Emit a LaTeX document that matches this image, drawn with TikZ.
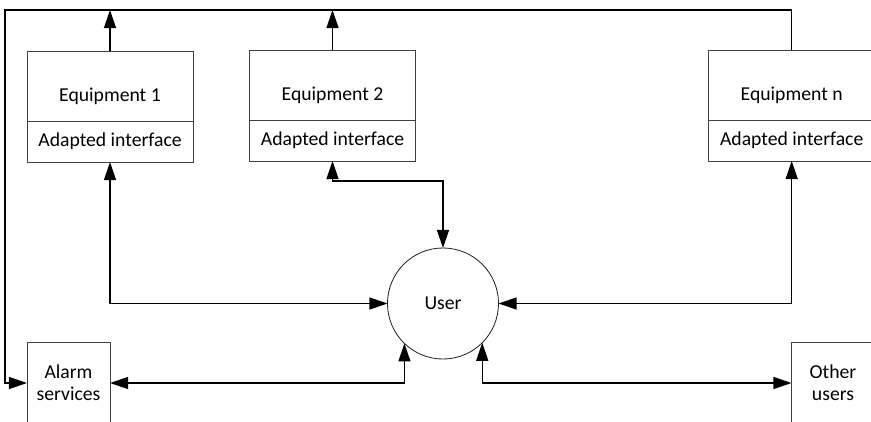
\documentclass[tikz,border=0pt]{standalone}
\usepackage{fontspec}
\setmainfont{Carlito}
\usepackage{tikz}
\usetikzlibrary{positioning,arrows.meta}
\tikzstyle{eqbox}=[draw=black!75,line width=0.6pt,outer sep=0pt,minimum width=4.15cm,minimum height=1.75cm,text height=0.85cm,text depth=0.1cm]
\tikzstyle{ifbox}=[draw=black!75,line width=0.6pt,outer sep=0pt,minimum width=4.15cm,minimum height=1.025cm]
\tikzstyle{sidebox}=[draw=black!75,line width=0.6pt,outer sep=0pt,minimum width=2.075cm,minimum height=2.05cm,align=center]
\tikzstyle{usernode}=[circle,draw=black!85,line width=0.6pt,outer sep=0pt,minimum size=2.775cm]
\tikzstyle{link}=[line width=0.9pt,-{Triangle[length=0.45cm,width=0.3cm]}]
\tikzstyle{duplex}=[line width=0.9pt,{Triangle[length=0.45cm,width=0.3cm]}-{Triangle[length=0.45cm,width=0.3cm]}]

\begin{document}
\begin{tikzpicture}[x=0.025cm,y=-0.025cm,font=\fontsize{14}{15.6}\selectfont]
\path[use as bounding box,clip] (0,0) rectangle (871,422);

% equipment with their interfaces
\node [eqbox] (eq1) at (110,86) {Equipment 1};
\node [ifbox,below=0pt of eq1] (if1) {Adapted interface};
\node [eqbox] (eq2) at (332.5,85) {Equipment 2};
\node [ifbox,below=0pt of eq2] (if2) {Adapted interface};
\node [eqbox] (eqn) at (791.7,85) {Equipment n};
\node [ifbox,below=0pt of eqn] (ifn) {Adapted interface};

% user and the other parties
\node [usernode] (user) at (443,303.5) {User};
\node [sidebox] (alarm) at (68.5,383) {Alarm\\services};
\node [sidebox] (other) at (833,383) {Other\\users};

% common line along the top
\coordinate (bus) at (5,10);
\draw [link] (eq1.north) -- (eq1.north |- bus);
\draw [link] (eq2.north) -- (eq2.north |- bus);
\draw [link] (eqn.north) |- (bus) |- (alarm.west);

% interfaces to the user
\draw [duplex] (if1.south) |- (user.west);
\draw [duplex] (if2.south) -- ++(0,20) -| (user.north);
\draw [duplex] (ifn.south) |- (user.east);
\draw [duplex] (alarm.east) -| (user.226);
\draw [duplex] (user.315) |- (other.west);
\end{tikzpicture}
\end{document}
